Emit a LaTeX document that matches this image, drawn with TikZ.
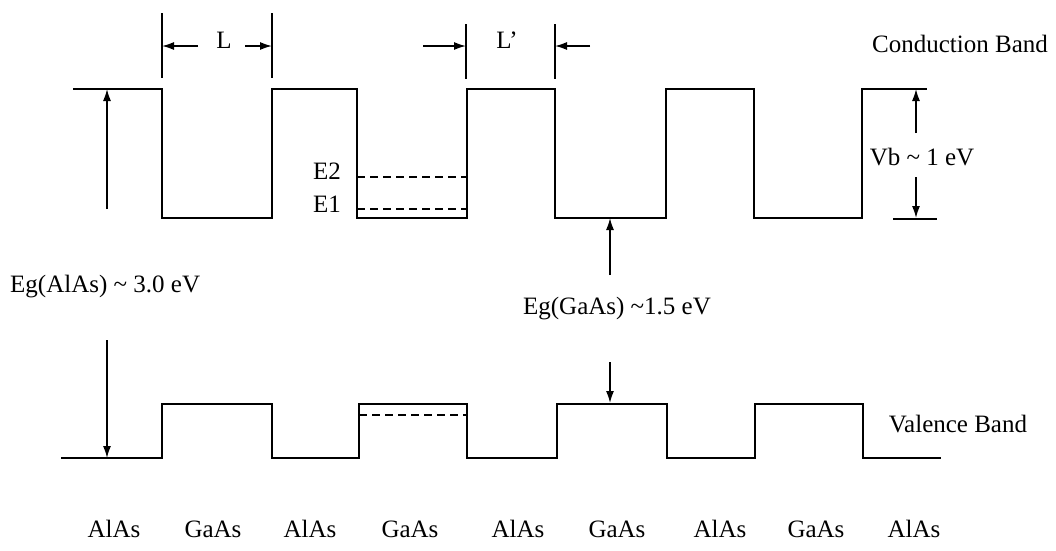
\documentclass[tikz,border=0pt]{standalone}
\usepackage{fontspec}
\setmainfont{Liberation Serif}
\usetikzlibrary{arrows.meta}
\begin{document}
\begin{tikzpicture}[x=1pt,y=-1pt,
  band/.style={line width=1.7pt, line join=miter},
  level/.style={line width=1.5pt, dash pattern=on 8pt off 5pt},
  dim/.style={line width=1.5pt,-{Latex[length=12pt,width=8pt]}},
  tick/.style={line width=1.5pt},
  lbl/.style={font=\fontsize{25}{28}\selectfont, inner sep=0pt, text height=0.7em, text depth=0.2em},
]
\useasboundingbox (0,0) rectangle (1056,550);
% conduction band
\draw[band] (73,89) -| (162,218) -| (272,89) -| (357,218) -| (467,89) -| (555,218) -| (666,89) -| (754,218) -| (862,89) -- (927,89);
% valence band
\draw[band] (61,458) -| (162,404) -| (272,458) -| (359,404) -| (467,458) -| (557,404) -| (667,458) -| (755,404) -| (863,458) -- (941,458);
% confined levels
\coordinate (e2a) at (357,177); \coordinate (e2b) at (467,177);
\coordinate (e1a) at (357,209); \coordinate (e1b) at (467,209);
\coordinate (hva) at (359,415); \coordinate (hvb) at (467,415);
\draw[level] (e2a) -- (e2b);
\draw[level] (e1a) -- (e1b);
\draw[level] (hva) -- (hvb);
\node[lbl] (E2) at (327,177) {E2};
\node[lbl] (E1) at (327,210) {E1};
% L dimension
\coordinate (lt1a) at (162,13); \coordinate (lt1b) at (162,78);
\coordinate (lt2a) at (272,13); \coordinate (lt2b) at (272,78);
\draw[tick] (lt1a) -- (lt1b);
\draw[tick] (lt2a) -- (lt2b);
\node[lbl] (L) at (224,46) {L};
\coordinate (la) at (198,46); \coordinate (lap) at (162,46);
\coordinate (lb) at (245,46); \coordinate (lbp) at (272,46);
\draw[dim] (la) -- (lap);
\draw[dim] (lb) -- (lbp);
% L' dimension
\coordinate (mt1a) at (466,24); \coordinate (mt1b) at (466,79);
\coordinate (mt2a) at (555,24); \coordinate (mt2b) at (555,79);
\draw[tick] (mt1a) -- (mt1b);
\draw[tick] (mt2a) -- (mt2b);
\node[lbl] (Lp) at (507,46) {L’};
\coordinate (ma) at (423,46); \coordinate (map) at (466,46);
\coordinate (mb) at (590,46); \coordinate (mbp) at (555,46);
\draw[dim] (ma) -- (map);
\draw[dim] (mb) -- (mbp);
% Eg(AlAs)
\coordinate (ga1) at (107,209); \coordinate (ga1p) at (107,89);
\coordinate (ga2) at (107,340); \coordinate (ga2p) at (107,458);
\draw[dim] (ga1) -- (ga1p);
\draw[dim] (ga2) -- (ga2p);
\node[lbl, anchor=west] (EgA) at (10,290) {Eg(AlAs) \textasciitilde{} 3.0 eV};
% Eg(GaAs)
\coordinate (gg1) at (610,275); \coordinate (gg1p) at (610,218);
\coordinate (gg2) at (610,362); \coordinate (gg2p) at (610,403);
\draw[dim] (gg1) -- (gg1p);
\draw[dim] (gg2) -- (gg2p);
\node[lbl] (EgG) at (617,312) {Eg(GaAs) \textasciitilde1.5 eV};
% Vb
\coordinate (vb1) at (916,133); \coordinate (vb1p) at (916,89);
\coordinate (vb2) at (916,177); \coordinate (vb2p) at (916,218);
\coordinate (vbt1) at (893,219); \coordinate (vbt2) at (937,219);
\draw[dim] (vb1) -- (vb1p);
\draw[dim] (vb2) -- (vb2p);
\draw[tick] (vbt1) -- (vbt2);
\node[lbl] (Vb) at (922,163) {Vb \textasciitilde{} 1 eV};
% band names
\node[lbl] (CB) at (960,50) {Conduction Band};
\node[lbl] (VB) at (958,430) {Valence Band};
% layer labels
\foreach \x/\t [count=\i] in {114/AlAs,213/GaAs,310/AlAs,410/GaAs,518/AlAs,617/GaAs,720/AlAs,816/GaAs,914/AlAs}
  \node[lbl] (m\i) at (\x,535) {\t};
\end{tikzpicture}
\end{document}
